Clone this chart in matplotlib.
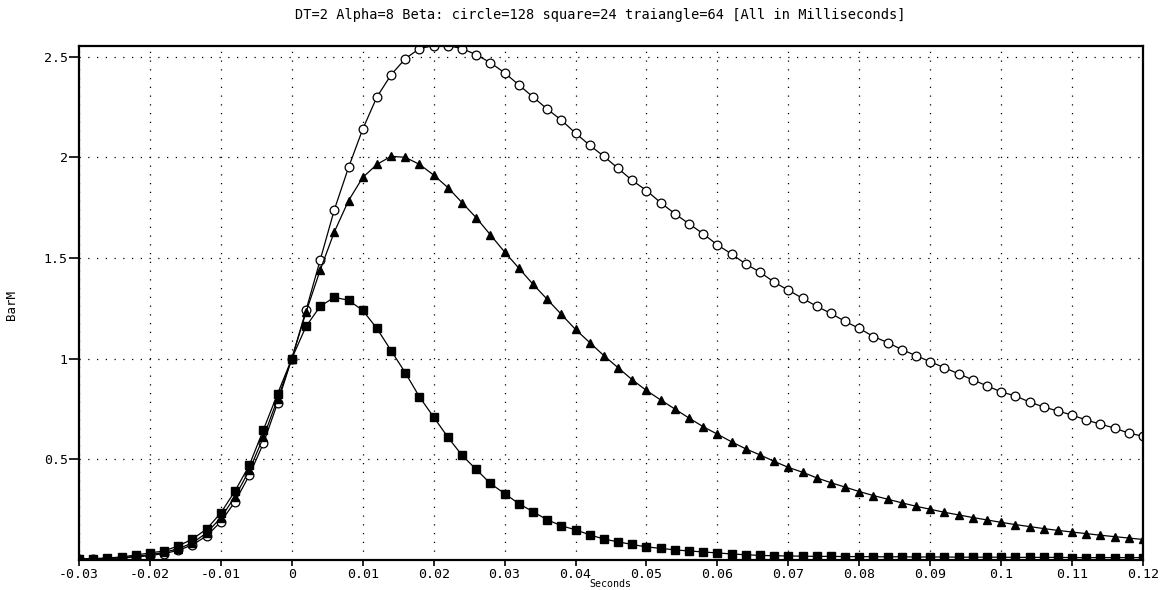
import matplotlib
matplotlib.use("Agg")
import matplotlib.pyplot as plt
import numpy as np

# sample times, DT = 2 ms
t_ms = np.arange(-30, 122, 2)
t = t_ms / 1000.0

# circle (beta=128)
circle = [0.003, 0.005, 0.007, 0.010, 0.015, 0.022, 0.032, 0.048, 0.075, 0.120,
          0.190, 0.290, 0.420, 0.580, 0.780, 1.000, 1.240, 1.490, 1.740, 1.950,
          2.140, 2.300, 2.410, 2.490, 2.540, 2.555, 2.555, 2.540, 2.510, 2.470,
          2.420, 2.360, 2.300, 2.240, 2.185, 2.120, 2.060, 2.005, 1.945, 1.885,
          1.835, 1.775, 1.720, 1.670, 1.620, 1.565, 1.520, 1.470, 1.430, 1.380,
          1.340, 1.300, 1.260, 1.225, 1.185, 1.150, 1.110, 1.080, 1.045, 1.015,
          0.985, 0.955, 0.925, 0.895, 0.865, 0.835, 0.815, 0.785, 0.760, 0.740,
          0.720, 0.695, 0.675, 0.655, 0.630, 0.615]

# triangle (beta=64)
triangle = [0.004, 0.006, 0.008, 0.012, 0.018, 0.026, 0.038, 0.056, 0.085, 0.135,
            0.210, 0.315, 0.445, 0.610, 0.800, 1.000, 1.230, 1.440, 1.630, 1.785,
            1.900, 1.965, 2.005, 2.000, 1.965, 1.912, 1.850, 1.775, 1.700, 1.615,
            1.530, 1.450, 1.370, 1.295, 1.220, 1.145, 1.080, 1.015, 0.955, 0.895,
            0.842, 0.795, 0.750, 0.705, 0.662, 0.625, 0.587, 0.552, 0.522, 0.490,
            0.460, 0.436, 0.408, 0.384, 0.362, 0.340, 0.320, 0.302, 0.284, 0.267,
            0.252, 0.237, 0.224, 0.211, 0.199, 0.187, 0.176, 0.166, 0.156, 0.147,
            0.139, 0.131, 0.123, 0.116, 0.109, 0.102]

# square (beta=24)
square = [0.005, 0.007, 0.010, 0.015, 0.025, 0.035, 0.045, 0.070, 0.104, 0.154,
          0.234, 0.343, 0.470, 0.647, 0.826, 1.000, 1.160, 1.260, 1.305, 1.290,
          1.240, 1.150, 1.040, 0.930, 0.810, 0.710, 0.610, 0.520, 0.450, 0.380,
          0.330, 0.280, 0.240, 0.200, 0.170, 0.150, 0.125, 0.104, 0.090, 0.077,
          0.065, 0.058, 0.050, 0.045, 0.040, 0.035, 0.030, 0.026, 0.023, 0.021,
          0.020, 0.019, 0.018, 0.018, 0.017, 0.017, 0.016, 0.016, 0.016, 0.015,
          0.015, 0.015, 0.014, 0.014, 0.014, 0.014, 0.013, 0.013, 0.013, 0.013,
          0.012, 0.012, 0.012, 0.012, 0.012, 0.012]

xticks = [-0.03, -0.02, -0.01, 0, 0.01, 0.02, 0.03, 0.04, 0.05, 0.06,
          0.07, 0.08, 0.09, 0.1, 0.11, 0.12]
xlabels = ['-0.03', '-0.02', '-0.01', '0', '0.01', '0.02', '0.03', '0.04', '0.05',
           '0.06', '0.07', '0.08', '0.09', '0.1', '0.11', '0.12']
yticks = [0.5, 1, 1.5, 2, 2.5]
ylabels = ['0.5', '1', '1.5', '2', '2.5']

plt.rcParams['font.family'] = ['DejaVu Sans Mono']

W, H = 1165, 590
fig = plt.figure(figsize=(W / 100, H / 100), dpi=100)
ax = fig.add_axes([79 / W, 1 - 560 / H, (1143 - 79) / W, (560 - 46) / H])

ax.plot(t, circle, color='black', lw=0.9, marker='o', ms=6.3,
        mfc='white', mec='black', mew=0.9)
ax.plot(t, triangle, color='black', lw=0.9, marker='^', ms=6.3,
        mfc='black', mec='black')
ax.plot(t, square, color='black', lw=0.9, marker='s', ms=5.8,
        mfc='black', mec='black')

ax.set_xlim(-0.03, 0.12)
ax.set_ylim(0, 2.553)
ax.set_xticks(xticks)
ax.set_xticklabels(xlabels, fontsize=9.5)
ax.set_yticks(yticks)
ax.set_yticklabels(ylabels, fontsize=9.5)
ax.tick_params(axis='x', direction='out', length=4, width=1.2, pad=2)
ax.tick_params(axis='y', direction='out', length=7, width=1.2, pad=1)

ax.grid(True, color='black', linestyle=(0, (1, 6)), linewidth=0.9)
for s in ax.spines.values():
    s.set_linewidth(1.6)

fig.text(600 / W, 1 - 15 / H,
         'DT=2 Alpha=8 Beta: circle=128 square=24 traiangle=64 [All in Milliseconds]',
         ha='center', va='center', fontsize=9.8)
fig.text(12 / W, 1 - 305 / H, 'BarM', rotation=90, ha='center', va='center', fontsize=9)
fig.text(610 / W, 1.0 / H, 'Seconds', ha='center', va='bottom', fontsize=7.2)

fig.savefig('out.png', dpi=100)
